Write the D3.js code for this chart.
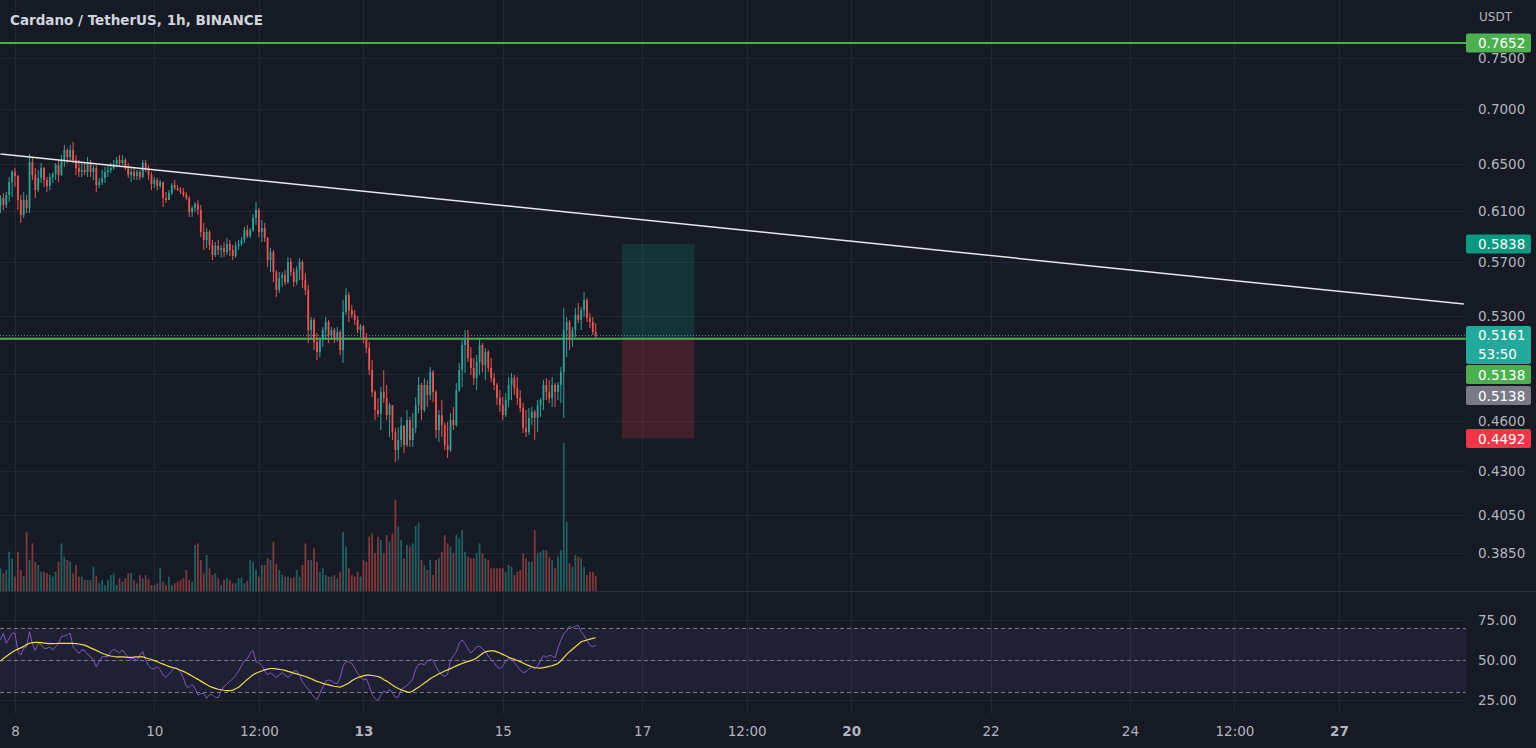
<!DOCTYPE html>
<html><head><meta charset="utf-8">
<script src="https://cdn.jsdelivr.net/npm/d3@7"></script>
<style>
html,body{margin:0;padding:0;background:#161a25;overflow:hidden}
svg{display:block}
text{font-family:"DejaVu Sans",sans-serif}
</style></head><body>
<svg id="chart" width="1536" height="748"></svg>
<script>
// ---------- data ----------
const title = "Cardano / TetherUS, 1h, BINANCE";
const currency = "USDT";
const firstCandle = "2022-06-07T19:00:00Z";
const firstOpen = 0.6144;
const closes = [.6211,.6153,.6236,.6346,.6432,.6398,.6194,.6070,.6194,.6128,
.6519,.6406,.6278,.6380,.6467,.6363,.6312,.6389,.6415,.6493,
.6406,.6537,.6626,.6564,.6626,.6537,.6467,.6432,.6450,.6432,
.6519,.6432,.6467,.6321,.6346,.6380,.6432,.6450,.6467,.6502,
.6537,.6511,.6537,.6476,.6406,.6432,.6398,.6432,.6389,.6511,
.6467,.6406,.6329,.6363,.6312,.6346,.6211,.6194,.6253,.6321,
.6295,.6278,.6261,.6236,.6211,.6095,.6128,.6161,.6111,.5933,
.5869,.5933,.5830,.5752,.5822,.5791,.5806,.5775,.5838,.5791,
.5744,.5822,.5838,.5869,.5949,.5901,.5949,.6046,.6111,.5933,
.5965,.5885,.5713,.5775,.5621,.5487,.5576,.5599,.5546,.5698,
.5621,.5546,.5637,.5698,.5561,.5487,.5199,.5270,.5116,.5047,
.5130,.5199,.5255,.5164,.5199,.5144,.5185,.5061,.5327,.5450,
.5341,.5305,.5270,.5199,.5227,.5144,.5075,.4926,.4782,.4668,
.4643,.4782,.4744,.4637,.4699,.4531,.4423,.4483,.4568,.4453,
.4605,.4483,.4556,.4699,.4828,.4668,.4828,.4763,.4913,.4782,
.4544,.4637,.4574,.4453,.4423,.4605,.4574,.4795,.4926,.5095,
.5144,.5007,.4940,.4873,.4980,.5095,.4960,.5047,.4940,.4873,
.4828,.4744,.4699,.4637,.4731,.4828,.4873,.4808,.4744,.4681,
.4556,.4531,.4618,.4655,.4618,.4699,.4731,.4828,.4782,.4744,
.4828,.4782,.4828,.4913,.5199,.5255,.5130,.5199,.5305,.5270,
.5341,.5414,.5284,.5255,.5185,.5161];
const highs = [.6236,.6253,.6261,.6389,.6450,.6467,.6406,.6236,.6261,.6236,
.6590,.6564,.6467,.6450,.6511,.6476,.6389,.6423,.6432,.6511,
.6537,.6581,.6671,.6644,.6671,.6698,.6581,.6537,.6511,.6519,
.6564,.6537,.6493,.6493,.6380,.6450,.6476,.6493,.6511,.6537,
.6564,.6581,.6581,.6555,.6511,.6467,.6467,.6450,.6450,.6537,
.6537,.6493,.6432,.6389,.6380,.6363,.6346,.6261,.6278,.6338,
.6363,.6321,.6304,.6295,.6261,.6228,.6144,.6178,.6194,.6153,
.6005,.5965,.5949,.5869,.5853,.5869,.5830,.5853,.5885,.5869,
.5830,.5853,.5869,.5893,.5973,.5989,.5965,.6078,.6178,.6128,
.6030,.6005,.5893,.5806,.5791,.5637,.5621,.5621,.5637,.5736,
.5729,.5652,.5667,.5729,.5713,.5614,.5524,.5291,.5284,.5178,
.5150,.5220,.5291,.5270,.5220,.5213,.5220,.5199,.5414,.5502,
.5472,.5377,.5341,.5298,.5241,.5234,.5178,.5116,.4993,.4795,
.4744,.4815,.4926,.4828,.4712,.4699,.4556,.4562,.4624,.4574,
.4668,.4624,.4649,.4750,.4880,.4841,.4873,.4860,.4946,.4926,
.4795,.4668,.4731,.4587,.4593,.4649,.4687,.4841,.4973,.5130,
.5199,.5199,.5081,.5007,.5027,.5130,.5109,.5075,.5061,.5007,
.4906,.4841,.4795,.4750,.4776,.4880,.4906,.4893,.4880,.4795,
.4712,.4668,.4681,.4687,.4668,.4731,.4744,.4860,.4873,.4860,
.4880,.4841,.4847,.4946,.5355,.5291,.5270,.5220,.5355,.5392,
.5363,.5472,.5428,.5320,.5291,.5248];
const lows = [.6087,.6111,.6128,.6178,.6219,.6304,.6111,.6005,.6046,.6087,
.6087,.6363,.6211,.6261,.6338,.6304,.6261,.6278,.6338,.6363,
.6346,.6398,.6476,.6511,.6537,.6511,.6406,.6389,.6389,.6406,
.6389,.6389,.6363,.6261,.6295,.6321,.6338,.6389,.6423,.6450,
.6476,.6476,.6493,.6450,.6380,.6346,.6363,.6363,.6363,.6380,
.6432,.6363,.6278,.6295,.6278,.6295,.6136,.6169,.6194,.6236,
.6278,.6270,.6244,.6219,.6194,.6054,.6054,.6095,.6070,.5893,
.5791,.5806,.5791,.5713,.5736,.5752,.5729,.5736,.5752,.5744,
.5713,.5729,.5791,.5822,.5845,.5885,.5885,.5933,.5989,.5893,
.5853,.5853,.5660,.5621,.5546,.5435,.5465,.5509,.5524,.5531,
.5591,.5509,.5524,.5561,.5502,.5450,.5109,.5130,.5061,.4993,
.5013,.5081,.5144,.5109,.5130,.5109,.5116,.5027,.4973,.5305,
.5255,.5284,.5234,.5178,.5150,.5109,.5040,.4893,.4750,.4605,
.4624,.4544,.4712,.4605,.4501,.4483,.4352,.4364,.4441,.4405,
.4441,.4441,.4441,.4525,.4649,.4605,.4655,.4687,.4731,.4718,
.4495,.4471,.4501,.4423,.4376,.4411,.4544,.4562,.4782,.4815,
.4906,.4980,.4893,.4828,.4795,.4893,.4913,.4860,.4913,.4847,
.4795,.4699,.4655,.4605,.4624,.4687,.4731,.4763,.4699,.4655,
.4525,.4501,.4513,.4574,.4483,.4531,.4624,.4668,.4731,.4712,
.4687,.4687,.4731,.4712,.4618,.5013,.5061,.5081,.5150,.5248,
.5199,.5291,.5255,.5213,.5164,.5144];
const volumes = [22.7,17.7,21,39.3,32.7,14.3,39.3,21,15,59.3,
31,47.7,29.3,26,19.3,19.3,17.7,16,14.3,19.3,
29.3,47.7,34.3,31,29.3,17.7,26,14.3,14.3,11,
11,11,24.3,15,7.7,11,6,11,16,17.7,
6,12.7,9.3,12.7,17.7,18.3,11,7.7,16,12.7,
16,11.7,6,6,7.7,22.7,9.3,6,14.3,6,
7.7,9.3,11,12.7,21,11,9.3,46,47.7,31,
17.7,36,22.7,16,17.7,12.7,6,11,12.7,11,
7.7,7.7,12.7,13.7,7.7,10.3,31,29.3,21,14.3,
26,26,32.7,31,49.3,27,21,16,14.3,14.3,
12.7,13.7,21,14.3,26,47.7,31,31,42.7,29.3,
19.3,22.7,16,14.3,14.3,16,12.7,19.3,59.3,44.3,
22.7,16,14.3,19.3,14.3,31,29.3,54.3,57.7,37.7,
54.3,51,37.7,56,49.3,57.7,91,64.3,51,32.7,
46,44.3,47.7,65,68.3,31,26,21,31,16,
31,32.7,39.3,56,47.7,44.3,37.7,56,52.7,61,
39.3,34.3,32.7,32.7,37.7,47.7,37.7,32.7,31,22.7,
22.7,22.7,22.7,22.7,19.3,26,24.3,16,19.3,21,
37.7,32.7,29.3,29.3,61,37.7,39.3,41,41,34.3,
31,22.7,34.3,41,148,69.3,27.7,24.3,36,34.3,
32.7,24.3,16,19.3,19.3,15];
const rsiValues = [62.5,66.7,60.4,63.5,66.7,66.7,55.2,53.1,57.3,58.3,
67.7,60,56,60.4,59.4,57.3,57.3,58.3,56.3,58.3,
60.4,64.6,65,65.8,66.7,58.3,56.3,54.2,56.3,56,
53.5,52.1,50,45.8,49,52.1,52.1,52.1,55.2,56.7,
55.6,54.6,56.3,53.8,51.7,50.4,51,49.4,53.1,55.2,
50,46.5,44.6,44.4,45.8,43.9,40.6,39.2,41,43.3,
45.2,44.8,42.1,38.8,33.3,32.9,34.8,32.3,28.1,28.8,
29.2,26,28.5,28.1,26.7,26.3,31,33.5,35,36.7,
38.3,40.4,43.1,46.3,49.6,50.6,54.2,55.8,49,48.5,
46.7,43.1,40.8,42.1,40.6,39,40.6,42.1,40.6,39.2,
40.6,43.1,43.3,40.8,36.3,34,31.7,29.2,26.9,25.2,
28.8,33.1,36.7,37.5,36.9,35.6,35.2,39.2,46.3,49,
48.8,47.9,45,41.7,39.2,37.5,38.3,33.8,28.3,26,
24.4,28.1,30.6,29.4,31.7,29.2,26.7,26.7,31.5,32.9,
34.2,35.8,38.1,44.2,47.3,47.7,46.9,49.2,50.4,49.8,
45.8,42.7,40.6,39.8,41,50,52.5,55.2,60.6,62.5,
60.2,56.9,54.4,56,58.3,58.5,57.1,55.4,52.5,50.2,
48.3,45.8,44.4,46.3,49.4,51,50.2,48.3,46,43.8,
42.1,42.7,44.4,45.6,44.2,46.3,49.8,52.9,51.5,52.9,
52.5,51.3,57.5,62.5,66.3,68.3,71,70.2,71.3,71.7,
67.7,65.4,62.1,59.2,58.3,59.2];
const rsiMAValues = [49.2,51,52.2,53.6,54.8,55.9,56.8,57.6,58.5,59.6,
60.5,60.9,61,61,60.8,60.6,60.4,60.2,60.2,60.3,
60.4,60.4,60.4,60.4,60.4,60.4,60.2,60,59.6,59.3,
58.5,57.6,56.8,56,55.2,54.2,53.6,52.9,52.5,52.2,
52,52,51.9,51.8,51.7,51.7,51.8,51.9,52,51.9,
51.4,50.8,50.3,49.6,48.9,48.1,47.4,46.7,46,45.4,
45,44.4,43.6,42.9,42,41,40,38.9,37.9,36.8,
35.7,34.7,33.6,32.9,32.3,31.7,31.4,31.1,30.9,30.8,
31.2,32,33,34.5,36.2,37.8,39.3,40.8,41.7,42.5,
43.1,43.8,44.3,44.7,44.7,44.4,44.1,43.9,43.5,42.9,
42.4,41.8,41.3,40.8,40.2,39.7,39,38.3,37.4,36.6,
36.1,35.4,34.9,34.5,34,33.6,33.3,33,33.8,34.7,
35.6,37,38.1,38.9,39.6,40.1,40.5,40.6,40.3,40,
39.7,39,37.7,36.8,35.6,34.3,33.1,32.2,31.4,30.7,
30.1,29.7,30.6,31.9,33,34.3,35.6,36.9,38.3,39.4,
40.3,41.4,42.2,43.1,43.8,44.6,45.5,46.3,47.1,47.8,
48.5,49.1,49.6,50.3,51.3,52.7,54,55.1,55.5,55.7,
55.7,55.1,54.4,53.5,52.7,51.7,51,50.4,49.7,49,
48.1,47.2,46.5,45.8,45.3,45,44.9,45.2,45.6,46,
46.4,47.1,47.8,49.5,51.5,53.5,55.2,56.7,58.3,59.8,
61.4,62,62.5,63,63.5,63.9];

const priceTicks = [0.75,0.70,0.65,0.61,0.57,0.53,0.49,0.46,0.43,0.405,0.385];
const rsiTicks = [75,50,25];
const rsiBandLevels = [70,50,30];
const timeTickDates = ["2022-06-08T00:00:00Z","2022-06-10T00:00:00Z","2022-06-11T12:00:00Z","2022-06-13T00:00:00Z","2022-06-15T00:00:00Z","2022-06-17T00:00:00Z","2022-06-18T12:00:00Z","2022-06-20T00:00:00Z","2022-06-22T00:00:00Z","2022-06-24T00:00:00Z","2022-06-25T12:00:00Z","2022-06-27T00:00:00Z"];
const timeTickLabels = ["8","10","12:00","13","15","17","12:00","20","22","24","12:00","27"];
const timeTickBold = [false,false,false,true,false,false,false,true,false,false,false,true];
const horizontalLevels = [0.7652, 0.5138];
const lastPrice = 0.5161;
const countdown = "53:50";
const positionTimes = ["2022-06-16T17:00:00Z","2022-06-17T18:00:00Z"];
const positionEntry = 0.5138, positionTarget = 0.5838, positionStop = 0.4492;
const trendTimes = ["2022-06-07T19:00:00Z","2022-06-28T19:00:00Z"];
const trendPrices = [0.6590, 0.5384];

// ---------- layout ----------
const W = 1536, H = 748;
const plotRight = 1466;
const mainBottom = 591, rsiTop = 592, rsiBottom = 714;
const FS = 13.5;
const C = {bg:"#161a25", grid:"#232733", text:"#b2b5be", up:"#26a69a", down:"#ef5350",
  upVol:"rgba(38,166,154,0.5)", downVol:"rgba(239,83,80,0.5)", green:"#4caf50"};

const svg = d3.select("#chart");
svg.append("rect").attr("width",W).attr("height",H).attr("fill",C.bg);

const hour = 3600e3;
const t0 = new Date(firstCandle).getTime();
const candles = closes.map((c,i)=>{
  const open = i===0 ? firstOpen : closes[i-1];
  return {t:new Date(t0 + i*hour), o:open, h:Math.max(highs[i],open,c), l:Math.min(lows[i],open,c), c, v:volumes[i], rsi:rsiValues[i], ma:rsiMAValues[i]};
});

const x = d3.scaleUtc().domain([new Date("2022-06-08T00:00:00Z"), new Date("2022-06-27T00:00:00Z")]).range([15,1339]);
const y = d3.scaleLog().domain([0.75,0.385]).range([58,553]);
const yVol = d3.scaleLinear().domain([0,100]).range([mainBottom, mainBottom-100]);
const yRsi = d3.scaleLinear().domain([25,75]).range([700,620]);

const defs = svg.append("defs");
defs.append("clipPath").attr("id","clipMain").append("rect").attr("x",0).attr("y",0).attr("width",plotRight).attr("height",mainBottom);
defs.append("clipPath").attr("id","clipRsi").append("rect").attr("x",0).attr("y",rsiTop).attr("width",plotRight).attr("height",rsiBottom-rsiTop);

// grid: vertical
const tickDates = timeTickDates.map(d=>new Date(d));
svg.append("g").selectAll("line").data(tickDates).join("line")
  .attr("x1",d=>Math.round(x(d))+0.5).attr("x2",d=>Math.round(x(d))+0.5)
  .attr("y1",0).attr("y2",rsiBottom).attr("stroke",C.grid).attr("stroke-width",1);
// grid: horizontal price
svg.append("g").selectAll("line").data(priceTicks).join("line")
  .attr("x1",0).attr("x2",plotRight).attr("y1",d=>Math.round(y(d))+0.5).attr("y2",d=>Math.round(y(d))+0.5)
  .attr("stroke",C.grid);
// grid: rsi
svg.append("g").selectAll("line").data(rsiTicks).join("line")
  .attr("x1",0).attr("x2",plotRight).attr("y1",d=>Math.round(yRsi(d))+0.5).attr("y2",d=>Math.round(yRsi(d))+0.5)
  .attr("stroke",C.grid);

// pane separator
svg.append("line").attr("x1",0).attr("x2",W).attr("y1",mainBottom+0.5).attr("y2",mainBottom+0.5).attr("stroke","#2a2e39");

// ---------- main pane ----------
const main = svg.append("g").attr("clip-path","url(#clipMain)");

// position box
const px0 = x(new Date(positionTimes[0])), px1 = x(new Date(positionTimes[1]));
main.append("rect").attr("x",px0).attr("width",px1-px0).attr("y",y(positionTarget)).attr("height",y(positionEntry)-y(positionTarget))
  .attr("fill","rgba(8,153,129,0.2)");
main.append("rect").attr("x",px0).attr("width",px1-px0).attr("y",y(positionEntry)).attr("height",y(positionStop)-y(positionEntry))
  .attr("fill","rgba(242,54,69,0.2)");

// volume
main.append("g").selectAll("rect").data(candles).join("rect")
  .attr("x",d=>x(d.t)-0.9).attr("width",1.8)
  .attr("y",d=>yVol(d.v)).attr("height",d=>mainBottom-yVol(d.v))
  .attr("fill",d=>d.c>=d.o?C.upVol:C.downVol);

// horizontal levels
main.append("g").selectAll("line").data(horizontalLevels).join("line")
  .attr("x1",0).attr("x2",plotRight).attr("y1",d=>y(d)).attr("y2",d=>y(d))
  .attr("stroke",C.green).attr("stroke-width",2);

// last price dotted
main.append("line").attr("x1",0).attr("x2",plotRight).attr("y1",y(lastPrice)).attr("y2",y(lastPrice))
  .attr("stroke",C.up).attr("stroke-width",1).attr("stroke-dasharray","1 2");

// candles
const cg = main.append("g");
cg.selectAll("line").data(candles).join("line")
  .attr("x1",d=>x(d.t)).attr("x2",d=>x(d.t)).attr("y1",d=>y(d.h)).attr("y2",d=>y(d.l))
  .attr("stroke",d=>d.c>=d.o?C.up:C.down).attr("stroke-width",1);
cg.selectAll("rect").data(candles).join("rect")
  .attr("x",d=>x(d.t)-0.9).attr("width",1.8)
  .attr("y",d=>y(Math.max(d.o,d.c))).attr("height",d=>Math.max(1,Math.abs(y(d.o)-y(d.c))))
  .attr("fill",d=>d.c>=d.o?C.up:C.down);

// trend line
main.append("line")
  .attr("x1",x(new Date(trendTimes[0]))).attr("y1",y(trendPrices[0]))
  .attr("x2",x(new Date(trendTimes[1]))).attr("y2",y(trendPrices[1]))
  .attr("stroke","#e6e7ea").attr("stroke-width",1.5);

// ---------- RSI pane ----------
const rsiG = svg.append("g").attr("clip-path","url(#clipRsi)");
rsiG.append("rect").attr("x",0).attr("width",plotRight).attr("y",yRsi(70)).attr("height",yRsi(30)-yRsi(70))
  .attr("fill","rgba(126,87,194,0.1)");
rsiG.append("g").selectAll("line").data(rsiBandLevels).join("line")
  .attr("x1",0).attr("x2",plotRight).attr("y1",d=>Math.round(yRsi(d))+0.5).attr("y2",d=>Math.round(yRsi(d))+0.5)
  .attr("stroke","#787b86").attr("stroke-dasharray","4 3");
rsiG.append("path").datum(candles).attr("fill","none").attr("stroke","#7e57c2").attr("stroke-width",1)
  .attr("d",d3.line().x(d=>x(d.t)).y(d=>yRsi(d.rsi)));
rsiG.append("path").datum(candles).attr("fill","none").attr("stroke","#f2d94e").attr("stroke-width",1.2)
  .attr("d",d3.line().x(d=>x(d.t)).y(d=>yRsi(d.ma)));

// ---------- axes ----------
const priceAxis = d3.axisRight(y).tickValues(priceTicks).tickFormat(d3.format(".4f")).tickSize(0).tickPadding(12);
const pa = svg.append("g").attr("transform",`translate(${plotRight},0)`).call(priceAxis);
pa.select(".domain").remove();
pa.selectAll("text").attr("fill",C.text).attr("font-size",FS).attr("font-family","DejaVu Sans, sans-serif");

const rsiAxis = d3.axisRight(yRsi).tickValues(rsiTicks).tickFormat(d3.format(".2f")).tickSize(0).tickPadding(12);
const ra = svg.append("g").attr("transform",`translate(${plotRight},0)`).call(rsiAxis);
ra.select(".domain").remove();
ra.selectAll("text").attr("fill",C.text).attr("font-size",FS).attr("font-family","DejaVu Sans, sans-serif");

const timeAxis = d3.axisBottom(x).tickValues(tickDates).tickFormat((d,i)=>timeTickLabels[i]).tickSize(0).tickPadding(12);
const ta = svg.append("g").attr("transform",`translate(0,${rsiBottom})`).call(timeAxis);
ta.select(".domain").remove();
ta.selectAll("text").attr("fill",C.text).attr("font-size",FS).attr("font-family","DejaVu Sans, sans-serif")
  .attr("font-weight",(d,i)=>timeTickBold[i]?"bold":"normal");

svg.append("text").attr("x",1479).attr("y",21).text(currency).attr("fill",C.text).attr("font-size",12);

// ---------- price labels ----------
function labelBox(value, color, top, extra){
  const h = extra ? 38 : 19;
  const g = svg.append("g");
  g.append("rect").attr("x",plotRight).attr("y",top).attr("width",65).attr("height",h).attr("rx",2).attr("fill",color);
  g.append("text").attr("x",1478).attr("y",top+14.5).text(d3.format(".4f")(value))
    .attr("fill","#ffffff").attr("font-size",FS);
  if(extra) g.append("text").attr("x",1478).attr("y",top+33).text(extra).attr("fill","#ffffff").attr("font-size",FS);
}
labelBox(horizontalLevels[0], C.green, y(horizontalLevels[0])-9.5);
labelBox(positionTarget, "#089981", y(positionTarget)-9.5);
labelBox(lastPrice, "#22a99b", y(lastPrice)-9.5, countdown);
// stacked below the last-price label so they do not overlap
labelBox(positionEntry, C.green, 365);
labelBox(positionEntry, "#787b86", 386);
labelBox(positionStop, "#f23645", y(positionStop)-9.5);

// title
svg.append("text").attr("x",10).attr("y",25).text(title).attr("fill","#d1d4dc").attr("font-size",13.5).attr("font-weight","bold");
</script>
</body></html>
